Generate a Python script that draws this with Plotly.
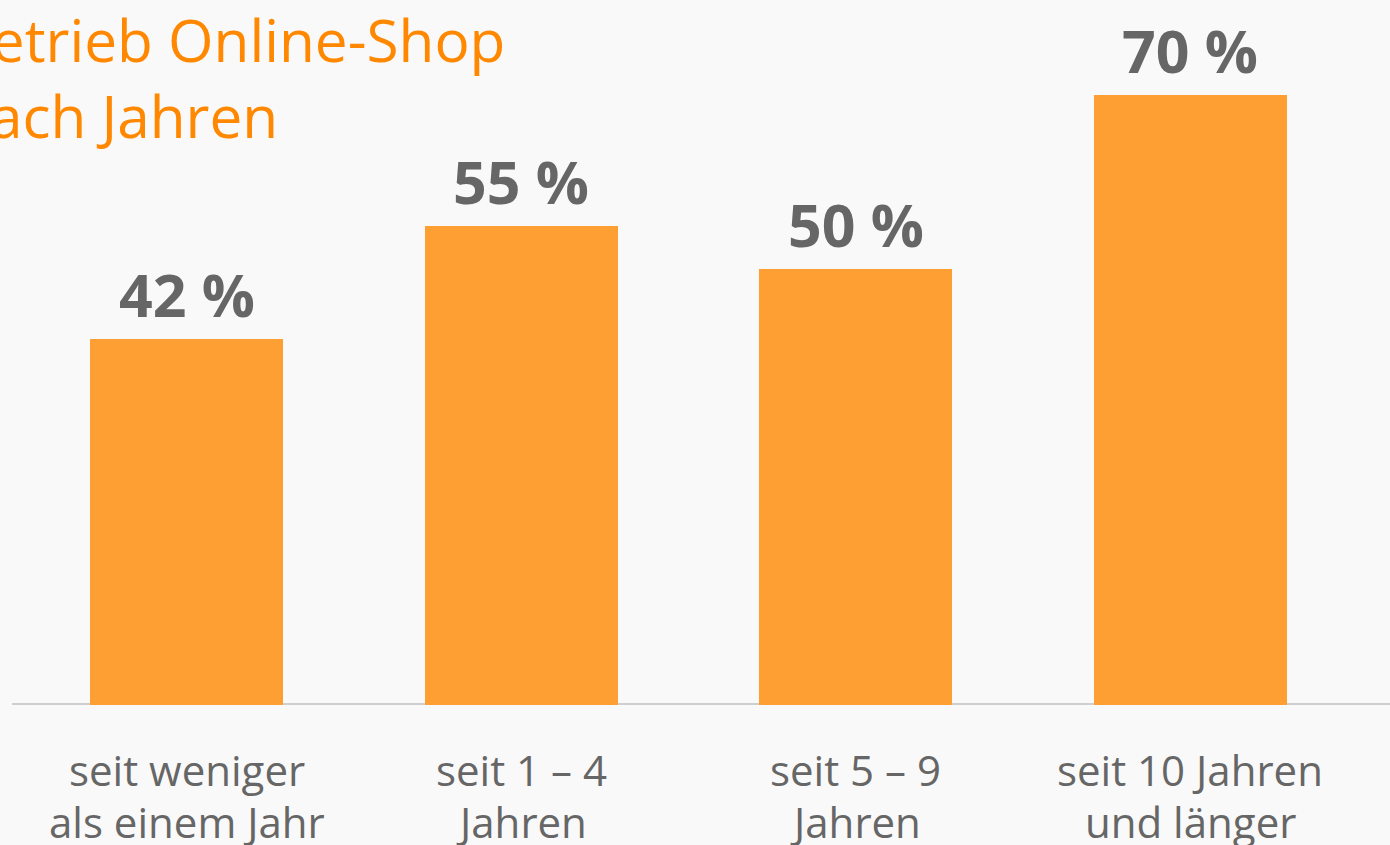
import plotly.graph_objects as go

categories = ["c1", "c2", "c3", "c4"]
values = [42, 55, 50, 70]
value_labels = ["42 %", "55 %", "50 %", "70 %"]
label_line1 = ["seit weniger", "seit 1 – 4", "seit 5 – 9", "seit 10 Jahren"]
label_line2 = ["als einem Jahr", "Jahren", "Jahren", "und länger"]
title_text = "Betrieb Online-Shop<br>nach Jahren"

W, H = 1390, 845
BAR = "#FD9F33"
GRAY = "#666666"
BG = "#F9F9F9"

fig = go.Figure()
fig.add_trace(go.Bar(
    x=list(range(len(categories))), y=values,
    marker=dict(color=BAR, line=dict(width=0)),
    width=0.577, hoverinfo="skip",
))

annotations = []
for i, (v, t) in enumerate(zip(values, value_labels)):
    annotations.append(dict(
        x=i, y=v, xref="x", yref="y", text=t, showarrow=False,
        yanchor="bottom", yshift=3,
        font=dict(family="Open Sans", size=59, color=GRAY, weight="bold"),
    ))
for i, (l1, l2) in enumerate(zip(label_line1, label_line2)):
    annotations.append(dict(
        x=i, y=0, xref="x", yref="y", text=l1, showarrow=False,
        yanchor="middle", yshift=-64,
        font=dict(family="Open Sans", size=42, color=GRAY),
    ))
    annotations.append(dict(
        x=i, y=0, xref="x", yref="y", text=l2, showarrow=False,
        yanchor="middle", yshift=-116,
        font=dict(family="Open Sans", size=42, color=GRAY),
    ))
annotations.append(dict(
    x=-48 / W, y=1.0, xref="paper", yref="paper", text=title_text,
    showarrow=False, xanchor="left", yanchor="top", align="left",
    yshift=3,
    font=dict(family="Open Sans", size=58.5, color="#FF8800"),
))

px_per_unit = (705 - 95) / 70
fig.update_layout(
    width=W, height=H,
    margin=dict(l=0, r=0, t=0, b=H - 705),
    paper_bgcolor=BG, plot_bgcolor=BG,
    showlegend=False,
    xaxis=dict(range=[-186.5 / 334.5, (W - 186.5) / 334.5], visible=False, fixedrange=True),
    yaxis=dict(range=[0, 705 / px_per_unit], visible=False, fixedrange=True),
    annotations=annotations,
    shapes=[dict(type="line", xref="paper", yref="y", x0=12 / W, x1=1.0,
                 y0=0, y1=0, layer="below",
                 line=dict(color="#CFCFCF", width=4))],
    bargap=0,
)
fig.write_html(
    "out.html",
    config={"displayModeBar": False},
    post_script="document.body.style.margin='0';document.body.style.background='#F9F9F9';",
)
